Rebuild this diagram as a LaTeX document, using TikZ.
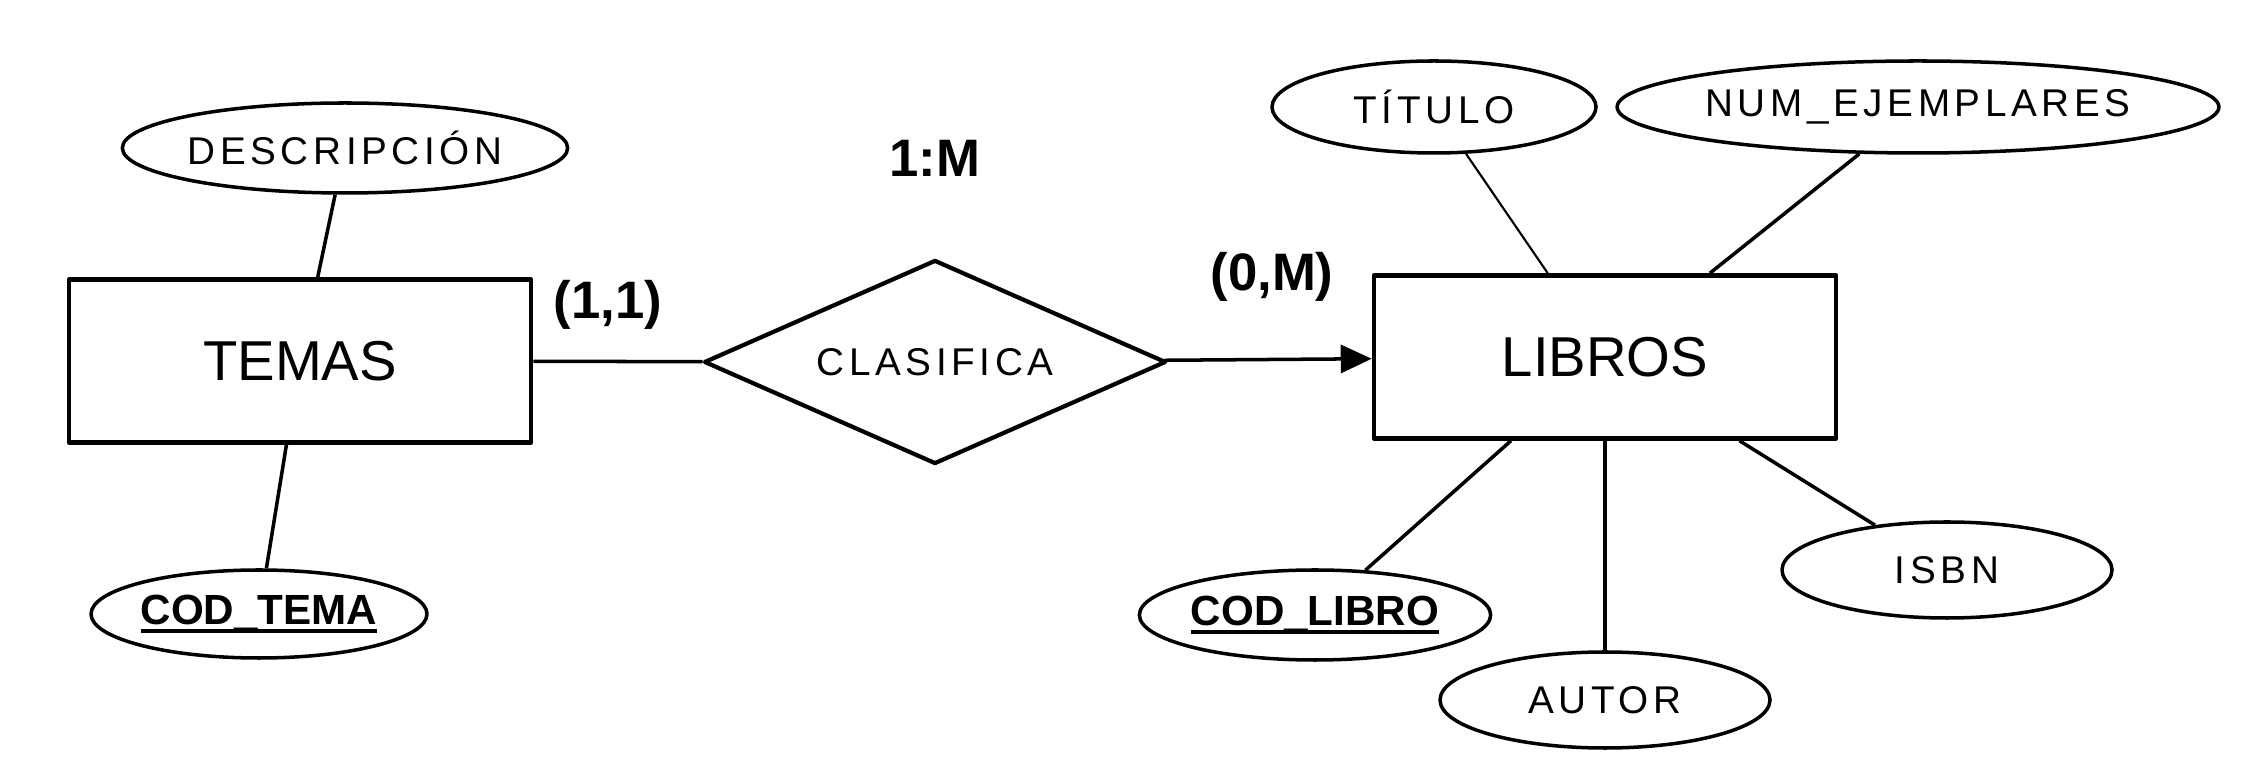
\documentclass[tikz,border=0pt]{standalone}
\usepackage{fontspec}
\setmainfont{Liberation Sans}
\newfontfamily\attrfont[LetterSpace=12]{Liberation Sans}
\usetikzlibrary{shapes.geometric,arrows.meta}
\newcommand\keyul[1]{\setbox0\hbox{#1}\leavevmode
  \rlap{\rule[-2.6pt]{\wd0}{1.1pt}}\box0}

\begin{document}
\begin{tikzpicture}[x=0.1mm, y=-0.1mm, line join=round,
    entity/.style={draw, line width=1.3pt, minimum width=4.62cm,
      minimum height=1.63cm, inner sep=0pt, font=\fontsize{16}{18}\selectfont},
    attr/.style={draw, ellipse, line width=1pt, inner sep=0pt,
      font=\attrfont\fontsize{11}{13}\selectfont},
    keyattr/.style={attr, font=\fontsize{12}{14}\selectfont\bfseries},
    rel/.style={draw, diamond, line width=1.2pt, inner sep=0pt, aspect=2.26,
      minimum width=4.62cm, minimum height=2.04cm,
      font=\attrfont\fontsize{11}{13}\selectfont},
    card/.style={font=\fontsize{15}{17}\selectfont\bfseries},
    link/.style={line width=1pt}]
  \useasboundingbox (0,0) rectangle (2253,774);
  % ==== entities and relationship ====
  \node[entity] (temas) at (300,361) {TEMAS};
  \node[entity] (libros) at (1605,357) {LIBROS};
  \node[rel] (clasifica) at (935,362) {CLASIFICA};
  % ==== cardinalities ====
  \node[card] (ratio) at (935,158) {1:M};
  \node[card] (cardT) at (608,305) {(1,1)};
  \node[card] (cardL) at (1272,277) {(0,M)};
  % ==== attributes of TEMAS ====
  \node[attr, minimum width=4.2cm, minimum height=0.9cm] (desc) at (345,148) {DESCRIPCIÓN};
  \node[keyattr, minimum width=3.36cm, minimum height=0.88cm] (codtema) at (259,614) {\keyul{COD\_TEMA}};
  % ==== attributes of LIBROS ====
  \node[attr, minimum width=3.24cm, minimum height=0.92cm] (titulo) at (1434,107) {TÍTULO};
  \node[attr, minimum width=5.32cm, minimum height=0.92cm] (numej) at (1918,107) {NUM\_EJEMPLARES};
  \node[keyattr, minimum width=3.3cm, minimum height=0.9cm] (codlibro) at (1315,615) {\keyul{COD\_LIBRO}};
  \node[attr, minimum width=3.3cm, minimum height=0.96cm] (autor) at (1605,700) {AUTOR};
  \node[attr, minimum width=3.3cm, minimum height=0.96cm] (isbn) at (1947,570) {ISBN};
  % ==== connectors ====
  \draw[link] (temas) -- (clasifica);
  \draw[link, -{Triangle[length=3.1mm, width=2.8mm]}] (clasifica) -- (libros);
  \draw[link] (desc) -- (temas);
  \draw[link] (codtema) -- (temas);
  \draw[link, line width=0.6pt] (titulo) -- (libros);
  \draw[link] (numej) -- (libros);
  \draw[link] (codlibro) -- (libros);
  \draw[link] (autor) -- (libros);
  \draw[link] (isbn) -- (libros);
\end{tikzpicture}
\end{document}
